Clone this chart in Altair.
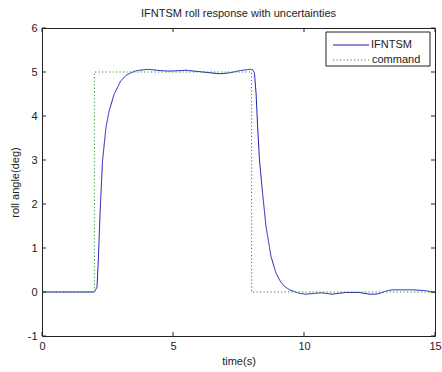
import altair as alt
import pandas as pd

# ---- data ----
resp_t = [0, 2.0, 2.1, 2.15, 2.22, 2.31, 2.44, 2.56, 2.75, 3.0,
          3.2, 3.38, 3.6, 4.02, 4.23, 4.55, 4.87, 5.2, 5.5, 5.8,
          6.14, 6.45, 6.78, 7.16, 7.54, 7.92, 8.05, 8.11, 8.17, 8.23,
          8.3, 8.42, 8.55, 8.74, 8.93, 9.1, 9.25, 9.45, 9.63, 9.82,
          10.08, 10.4, 10.7, 11.08, 11.6, 12.1, 12.5, 12.74, 12.95, 13.12,
          13.37, 13.75, 14.13, 14.4, 14.64, 14.9, 15.0]
resp_v = [0, 0, 0.11, 0.72, 1.85, 2.98, 3.73, 4.11, 4.49, 4.79,
          4.92, 4.98, 5.03, 5.06, 5.05, 5.03, 5.02, 5.03, 5.04, 5.02,
          5.0, 4.98, 4.96, 4.98, 5.03, 5.06, 5.05, 4.97, 4.52, 3.76,
          3.0, 2.24, 1.49, 0.81, 0.43, 0.24, 0.13, 0.05, 0.01, -0.03,
          -0.05, -0.03, -0.02, -0.05, -0.01, -0.01, -0.05, -0.05, -0.02, 0.02,
          0.05, 0.05, 0.05, 0.04, 0.03, 0.0, -0.01]
cmd_t = [0, 2, 2, 8, 8, 15]
cmd_v = [0, 0, 5, 5, 0, 0]

series_names = ["IFNTSM", "command"]
series_colors = ["#1c1cb4", "#2e8b2e"]
series_dash = [[1, 0], [1.2, 2.3]]
x_ticks = [0, 5, 10, 15]
y_ticks = [-1, 0, 1, 2, 3, 4, 5, 6]

df = pd.concat([
    pd.DataFrame({"t": resp_t, "v": resp_v, "series": series_names[0], "o": range(len(resp_t))}),
    pd.DataFrame({"t": cmd_t, "v": cmd_v, "series": series_names[1], "o": range(len(cmd_t))}),
])
legend_df = pd.DataFrame({"series": series_names})

W, H = 393, 308
FONT = "Liberation Sans"
INK = "#222"

xscale = alt.Scale(domain=[0, 15], nice=False, zero=False)
yscale = alt.Scale(domain=[-1, 6], nice=False, zero=False)

lines = alt.Chart(df).mark_line(strokeWidth=1, interpolate="linear").encode(
    x=alt.X("t:Q", scale=xscale,
            axis=alt.Axis(values=x_ticks, ticks=False, domain=False, grid=False,
                          labelFlush=False, labelPadding=4, labelExpr="'' + datum.value",
                          title="time(s)", titlePadding=4)),
    y=alt.Y("v:Q", scale=yscale,
            axis=alt.Axis(values=y_ticks, ticks=False, domain=False, grid=False,
                          labelFlush=False, labelPadding=5, labelExpr="'' + datum.value",
                          title="roll angle(deg)", titlePadding=7)),
    order="o:Q",
    color=alt.Color("series:N",
                    scale=alt.Scale(domain=series_names, range=series_colors),
                    legend=None),
    strokeDash=alt.StrokeDash("series:N",
                              scale=alt.Scale(domain=series_names, range=series_dash),
                              legend=None),
)

# inward tick marks on all four sides (MATLAB box style)
xt = pd.DataFrame({"t": x_ticks})
yt = pd.DataFrame({"v": y_ticks})
tick_style = dict(color=INK, strokeWidth=1)
bottom_ticks = alt.Chart(xt).mark_rule(**tick_style).encode(
    x=alt.X("t:Q", scale=xscale), y=alt.value(H), y2=alt.value(H - 4))
top_ticks = alt.Chart(xt).mark_rule(**tick_style).encode(
    x=alt.X("t:Q", scale=xscale), y=alt.value(0), y2=alt.value(4))
left_ticks = alt.Chart(yt).mark_rule(**tick_style).encode(
    y=alt.Y("v:Q", scale=yscale), x=alt.value(0), x2=alt.value(4))
right_ticks = alt.Chart(yt).mark_rule(**tick_style).encode(
    y=alt.Y("v:Q", scale=yscale), x=alt.value(W), x2=alt.value(W - 4))

# legend box drawn in MATLAB style (top-right, inside the axes)
LX0, LX1, LY0, LY1 = 284, 388, 4, 38
legend_box = alt.Chart(legend_df).transform_filter(
    alt.datum.series == series_names[0]
).mark_rect(fill="white", stroke=INK, strokeWidth=1).encode(
    x=alt.value(LX0), x2=alt.value(LX1), y=alt.value(LY0), y2=alt.value(LY1))

legend_layers = [legend_box]
for i, name in enumerate(series_names):
    ry = 17 + 15 * i
    sub = alt.Chart(legend_df).transform_filter(alt.datum.series == name)
    legend_layers.append(
        sub.mark_rule(strokeWidth=1, color=series_colors[i], strokeDash=series_dash[i]).encode(
            x=alt.value(LX0 + 7), x2=alt.value(LX0 + 43), y=alt.value(ry)))
    legend_layers.append(
        sub.mark_text(align="left", baseline="middle", font=FONT, fontSize=11, color=INK).encode(
            text="series:N", x=alt.value(LX0 + 45 + (1 if i else 0)), y=alt.value(ry)))

chart = alt.layer(lines, bottom_ticks, top_ticks, left_ticks, right_ticks,
                  *legend_layers).properties(
    width=W, height=H,
    title=alt.TitleParams("IFNTSM roll response with uncertainties",
                          font=FONT, fontSize=11, fontWeight="normal",
                          color=INK, offset=3, anchor="middle"),
    autosize=alt.AutoSizeParams(type="none"),
    padding={"left": 42, "top": 28, "right": 7, "bottom": 36},
    background="white",
).configure_view(stroke=INK, strokeWidth=1).configure_axis(
    labelFont=FONT, labelFontSize=11, labelColor=INK,
    titleFont=FONT, titleFontSize=11, titleFontWeight="normal", titleColor=INK,
)

chart.save("out.html", embed_options={"renderer": "svg", "actions": False})
